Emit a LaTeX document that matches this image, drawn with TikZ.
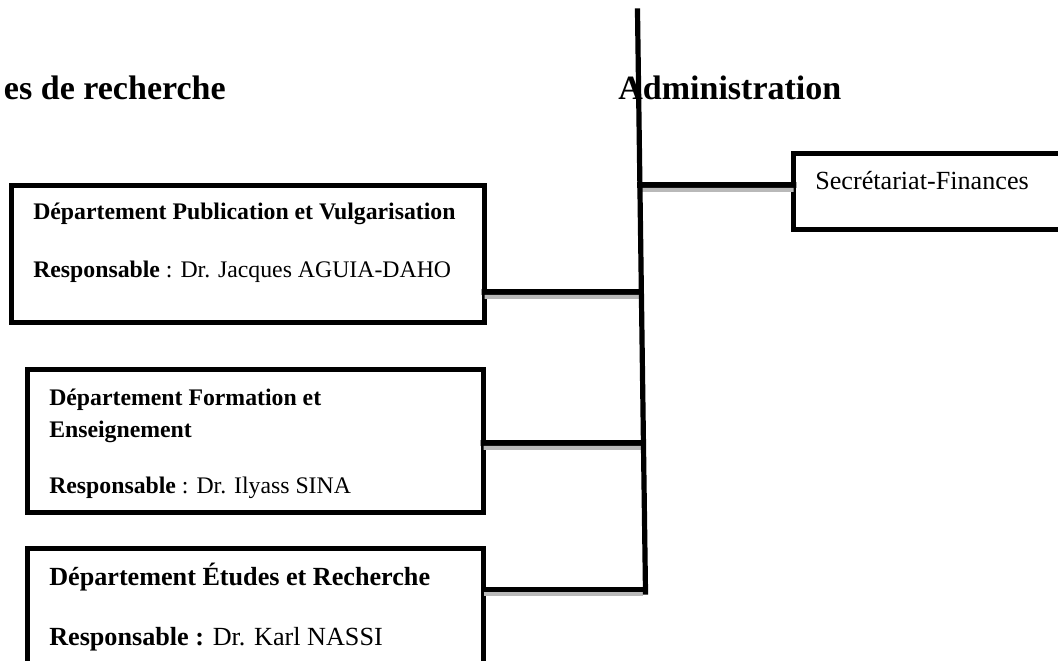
\documentclass[tikz,border=0pt]{standalone}
\usepackage{fontspec}
\setmainfont{Liberation Serif}
\usetikzlibrary{positioning}

\newcommand\deptsize{\fontsize{16.9}{22.8}\selectfont}
\newcommand\bigdeptsize{\fontsize{18.6}{25}\selectfont}
\newcommand\titlesize{\fontsize{24.2}{29}\selectfont}

\begin{document}
\begin{tikzpicture}[
  x = 0.025cm, y = -0.025cm,
  dept/.style = {draw, line width = 0.14cm, inner sep = 0pt, outer sep = 0pt, anchor = north west},
  txt/.style = {inner sep = 0pt, anchor = base west, align = left},
  title/.style = {inner sep = 0pt, font = \titlesize\bfseries},
  link/.style = {line width = 0.145cm, line cap = rect,
                 postaction = {draw = gray!55, line width = 0.1cm, line cap = butt,
                               transform canvas = {yshift = -0.12cm}}},
  spine/.style = {line width = 0.13cm, line cap = rect},
  ]
  \useasboundingbox (0,0) rectangle (1058,661);
  \clip (0,0) rectangle (1058,661);

  % headings
  \node[title, anchor = base east] (rech) at (226,100) {es de recherche};
  \node[title, anchor = base west] (admin) at (618,100) {Administration};

  % departments (text anchored on its last line)
  \node[dept, minimum width = 11.825cm, minimum height = 3.425cm] (pub) at (11.5,185.5) {};
  \node[txt, font = \deptsize] (pubtxt) at (33,278)
    {\textbf{Département Publication et Vulgarisation}\\[0.65cm]
     \textbf{Responsable} : Dr. Jacques AGUIA-DAHO};

  \node[dept, minimum width = 11.4cm, minimum height = 3.575cm] (form) at (27.5,369.5) {};
  \node[txt, font = \deptsize] (formtxt) at (49,494)
    {\textbf{Département Formation et}\\
     \textbf{Enseignement}\\[0.62cm]
     \textbf{Responsable} : Dr. Ilyass SINA};

  \node[dept, minimum width = 11.4cm, minimum height = 4cm] (etud) at (27.5,548.5) {};
  \node[txt, font = \bigdeptsize] (etudtxt) at (49,645)
    {\textbf{Département Études et Recherche}\\[0.62cm]
     \textbf{Responsable :} Dr. Karl NASSI};

  \node[dept, minimum width = 7.5cm, minimum height = 1.9cm] (secr) at (793.5,153.5) {};
  \node[txt, font = \bigdeptsize] (secrtxt) at (815,190) {Secrétariat-Finances};

  % spine and links
  \coordinate (top) at (637.5,11);
  \coordinate (bot) at (645.5,592);
  \coordinate (j0) at (640,185);
  \coordinate (j1) at (639,292);
  \coordinate (j2) at (641,443);
  \coordinate (j3) at (643,589.5);

  \draw[link] ([shift={(0,38)}]pub.east) -- (j1);
  \draw[link] ([shift={(0,2)}]form.east) -- (j2);
  \draw[link] ([shift={(0,41)}]etud.north east) -- (j3);
  \draw[link] (j0) -- ([shift={(0,-6.5)}]secr.west);
  \draw[spine] (top) -- (bot);
\end{tikzpicture}
\end{document}
